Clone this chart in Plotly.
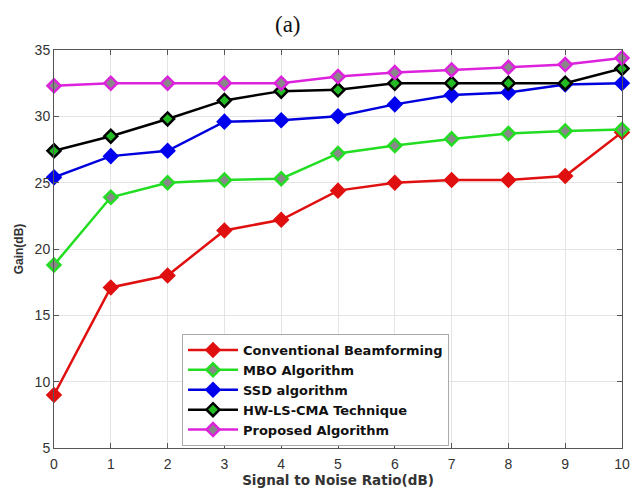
import plotly.graph_objects as go

snr = [0, 1, 2, 3, 4, 5, 6, 7, 8, 9, 10]
conventional = [9.0, 17.1, 18.0, 21.4, 22.2, 24.4, 25.0, 25.2, 25.2, 25.5, 28.8]
mbo = [18.8, 23.9, 25.0, 25.2, 25.3, 27.2, 27.8, 28.3, 28.7, 28.9, 29.0]
ssd = [25.4, 27.0, 27.4, 29.6, 29.7, 30.0, 30.9, 31.6, 31.8, 32.4, 32.5]
hwls = [27.4, 28.5, 29.8, 31.2, 31.9, 32.0, 32.5, 32.5, 32.5, 32.5, 33.6]
proposed = [32.3, 32.5, 32.5, 32.5, 32.5, 33.0, 33.3, 33.5, 33.7, 33.9, 34.4]

series = [
    ("Conventional Beamforming", conventional, "#e01010", "#e01010", "#e01010"),
    ("MBO Algorithm", mbo, "#22dd22", "#888888", "#22dd22"),
    ("SSD algorithm", ssd, "#0000dd", "#0000ee", "#0000ee"),
    ("HW-LS-CMA Technique", hwls, "#000000", "#22bb22", "#000000"),
    ("Proposed Algorithm", proposed, "#dd22dd", "#888888", "#dd22dd"),
]

fig = go.Figure()
for name, vals, lc, fc, ec in series:
    fig.add_trace(go.Scatter(
        x=snr, y=vals, name="<b>" + name + "</b>", mode="lines+markers",
        line=dict(color=lc, width=2.5), cliponaxis=False,
        marker=dict(symbol="diamond", size=10, color=fc, line=dict(color=ec, width=2.5)),
    ))

axis_common = dict(
    showgrid=True, gridcolor="#e4e4e4", gridwidth=1,
    showline=True, linecolor="#555555", linewidth=1, mirror="ticks",
    ticks="inside", ticklen=5, tickcolor="#555555",
    tickfont=dict(family="Liberation Sans, Arial", size=14, color="#333333"),
    zeroline=False, automargin=False,
)

plot_w = 631 - 54 - 9
plot_h = 491 - 50 - 43

fig.update_layout(
    width=631, height=491,
    margin=dict(l=54, r=9, t=50, b=43),
    paper_bgcolor="white", plot_bgcolor="white",
    xaxis=dict(range=[0, 10], tickvals=snr, ticklabelstandoff=3, **axis_common,
               title=dict(text="<b>Signal to Noise Ratio(dB)</b>", standoff=2,
                          font=dict(family="DejaVu Sans", size=13.5, color="#333333"))),
    yaxis=dict(range=[5, 35], tickvals=[5, 10, 15, 20, 25, 30, 35], **axis_common,
               title=dict(text="<b>Gain(dB)</b>", standoff=8,
                          font=dict(family="Liberation Sans, Arial", size=12, color="#333333"))),
    legend=dict(x=(182 - 54) / plot_w, y=1 - (334 - 50) / plot_h, xanchor="left", yanchor="top",
                bgcolor="white", bordercolor="#aaaaaa", borderwidth=1,
                font=dict(family="DejaVu Sans", size=13, color="#111111"),
                tracegroupgap=0, itemwidth=50),
    showlegend=True,
    annotations=[dict(text="(a)", x=(288 - 54) / plot_w, y=1 + (50 - 24) / plot_h,
                      xref="paper", yref="paper", showarrow=False,
                      xanchor="center", yanchor="middle",
                      font=dict(family="Liberation Serif, Times New Roman", size=23, color="#111111"))],
)
fig.write_html("out.html")
